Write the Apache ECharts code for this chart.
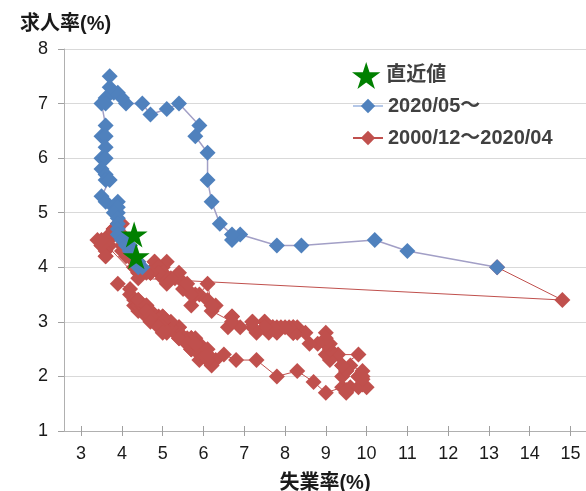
<!DOCTYPE html>
<html><head><meta charset="utf-8">
<script src="https://cdn.jsdelivr.net/npm/echarts@6/dist/echarts.min.js"></script>
<style>html,body{margin:0;padding:0;background:#fff}#c{width:586px;height:491px}</style>
</head><body><div id="c"></div>
<script>
// ---- data ----
const xTickValues = [3,4,5,6,7,8,9,10,11,12,13,14,15];
const yTickMin = 1, yTickMax = 8;

// 2000/12 ~ 2020/04 (last point connects to 2020/05)
const redX = [3.9,
 4.2,4.2,4.3,4.4,4.3,4.5,4.6,4.9,5.0,5.3,5.5,5.7,
 5.7,5.7,5.7,5.9,5.8,5.8,5.8,5.7,5.7,5.7,5.9,6.0,
 5.8,5.9,5.9,6.0,6.1,6.3,6.2,6.1,6.1,6.0,5.8,5.7,
 5.7,5.6,5.8,5.6,5.6,5.6,5.5,5.4,5.4,5.5,5.4,5.4,
 5.3,5.4,5.2,5.2,5.1,5.0,5.0,4.9,5.0,5.0,5.0,4.9,
 4.7,4.8,4.7,4.7,4.6,4.6,4.7,4.7,4.5,4.4,4.5,4.4,
 4.6,4.5,4.4,4.5,4.4,4.6,4.7,4.6,4.7,4.7,4.7,5.0,
 5.0,4.9,5.1,5.0,5.4,5.6,5.8,6.1,6.1,6.5,6.8,7.3,
 7.8,8.3,8.7,9.0,9.4,9.5,9.5,9.6,9.8,10.0,9.9,9.9,
 9.8,9.8,9.9,9.9,9.6,9.4,9.4,9.5,9.5,9.4,9.8,9.3,
 9.1,9.0,9.0,9.1,9.0,9.1,9.0,9.0,9.0,8.8,8.6,8.5,
 8.3,8.3,8.2,8.2,8.2,8.2,8.2,8.1,7.8,7.8,7.7,7.9,
 8.0,7.7,7.5,7.6,7.5,7.5,7.3,7.2,7.2,7.2,6.9,6.7,
 6.6,6.7,6.7,6.2,6.3,6.1,6.2,6.1,5.9,5.7,5.8,5.6,
 5.7,5.5,5.4,5.4,5.6,5.3,5.2,5.1,5.0,5.0,5.1,5.0,
 4.8,4.9,5.0,5.1,4.8,4.9,4.8,4.9,5.0,4.9,4.7,4.7,
 4.7,4.6,4.4,4.4,4.4,4.3,4.3,4.4,4.3,4.2,4.2,4.1,
 4.0,4.1,4.0,4.0,3.8,4.0,3.8,3.8,3.7,3.8,3.8,3.9,
 4.0,3.8,3.8,3.7,3.6,3.6,3.7,3.6,3.5,3.6,3.4,3.6,
 3.5,3.5,4.4,14.8,13.2];
const redY = [3.7,
 3.6,3.5,3.4,3.2,3.3,3.2,3.1,3.0,2.9,2.8,2.7,2.7,
 2.7,2.6,2.7,2.6,2.6,2.7,2.6,2.6,2.5,2.6,2.5,2.5,
 2.5,2.4,2.3,2.4,2.3,2.3,2.2,2.3,2.4,2.4,2.5,2.5,
 2.5,2.6,2.6,2.6,2.7,2.6,2.7,2.7,2.8,2.7,2.8,2.9,
 2.8,2.9,2.9,3.0,2.9,3.0,3.0,3.1,3.0,3.1,3.1,3.0,
 3.1,3.1,3.2,3.1,3.2,3.2,3.1,3.2,3.3,3.3,3.2,3.3,
 3.3,3.2,3.4,3.3,3.4,3.3,3.2,3.2,3.1,3.1,3.0,3.0,
 2.9,2.9,2.8,2.8,2.7,2.6,2.6,2.5,2.4,2.4,2.3,2.3,
 2.0,2.1,1.9,1.7,1.8,1.75,1.7,1.8,1.8,1.8,1.85,1.95,
 2.0,2.0,2.0,2.1,2.2,2.0,2.2,2.1,2.1,2.2,2.4,2.4,
 2.3,2.4,2.6,2.5,2.6,2.6,2.8,2.6,2.7,2.6,2.6,2.8,
 2.8,2.9,2.9,2.8,2.9,2.8,2.8,2.9,2.9,2.8,2.9,2.9,
 2.9,2.9,3.0,2.8,3.0,2.9,2.8,3.0,2.9,3.0,2.9,3.1,
 2.9,3.1,3.0,3.2,3.3,3.4,3.3,3.7,3.5,3.3,3.5,3.6,
 3.5,3.6,3.8,3.9,3.7,3.8,3.8,3.7,3.8,3.9,3.8,3.9,
 4.0,4.0,4.0,4.1,4.1,4.0,4.1,4.0,3.9,3.9,3.9,3.9,
 3.9,3.9,3.9,3.9,4.0,4.0,4.0,4.1,4.1,4.2,4.2,4.2,
 4.3,4.4,4.4,4.6,4.6,4.5,4.7,4.7,4.6,4.7,4.6,4.8,
 4.8,4.6,4.7,4.6,4.5,4.4,4.4,4.3,4.4,4.2,4.5,4.2,
 4.4,4.5,3.8,3.4,4.0];

// 2020/05 ~
const blueX = [13.2,11.0,10.2,8.4,7.8,6.9,6.7,6.7,
 6.4,6.2,6.1,6.1,5.8,5.9,5.4,5.1,4.7,4.5,4.1,3.9,
 4.0,3.8,3.7,3.7,3.6,3.6,3.5,3.6,3.5,3.6,3.6,3.5,
 3.6,3.5,3.6,3.6,3.7,3.5,3.6,3.9,3.8,3.9,3.9,3.8,
 3.9,3.9,3.9,3.9,4.0,4.1,4.2,4.2,4.1,4.2,4.4,4.4,4.5];
const blueY = [4.0,4.3,4.5,4.4,4.4,4.6,4.5,4.6,
 4.8,5.2,5.6,6.1,6.4,6.6,7.0,6.9,6.8,7.0,7.0,7.2,
 7.1,7.2,7.5,7.3,7.1,7.0,7.0,6.6,6.4,6.4,6.2,6.0,
 6.0,5.8,5.7,5.6,5.6,5.3,5.2,5.2,5.1,5.0,5.1,5.0,
 4.9,4.8,4.7,4.6,4.5,4.5,4.4,4.3,4.4,4.3,4.1,4.0,4.0];

// latest values
const starX = [4.3, 4.35];
const starY = [4.6, 4.2];

const zip = (a, b) => a.map((v, i) => [v, b[i]]);

const FONT = "'Liberation Sans', 'Noto Sans CJK JP', sans-serif";
const STAR = 'path://M50,0 L61.2,34.5 L97.6,34.5 L68.2,55.9 L79.4,90.5 L50,69.1 L20.6,90.5 L31.8,55.9 L2.4,34.5 L38.8,34.5 Z';

const chart = echarts.init(document.getElementById('c'), null, {renderer: 'canvas'});
chart.setOption({
  animation: false,
  backgroundColor: '#fff',
  textStyle: {fontFamily: FONT},
  title: {
    text: '求人率(%)', left: 15, top: 9,
    textStyle: {fontFamily: FONT, fontSize: 20, fontWeight: 'bold', color: '#1a1a1a'}
  },
  grid: {left: 64, right: 0, top: 49, bottom: 60, containLabel: false, outerBoundsMode: 'none'},
  legend: [
    {
      data: ['直近値'], left: 347, top: 57, orient: 'vertical',
      itemWidth: 30, itemHeight: 27,
      itemStyle: {opacity: 1},
      textStyle: {fontFamily: FONT, fontSize: 20, fontWeight: 'bold', color: '#404040'}
    },
    {
      data: [
        {name: '2020/05～', lineStyle: {color: '#b4c7e7', width: 2}},
        {name: '2000/12～2020/04'}
      ],
      left: 347, top: 91, orient: 'vertical',
      itemWidth: 30, itemHeight: 18, itemGap: 12,
      textStyle: {fontFamily: FONT, fontSize: 20, fontWeight: 'bold', color: '#404040', lineHeight: 20}
    }
  ],
  xAxis: [
    {
      type: 'value', min: 2.58, max: 15.38,
      name: '失業率(%)', nameLocation: 'middle', nameGap: 42,
      nameTextStyle: {fontFamily: FONT, fontSize: 20, fontWeight: 'bold', color: '#1a1a1a'},
      axisLine: {show: true, onZero: false, lineStyle: {color: '#b0b0b0', width: 1}},
      axisTick: {show: true, customValues: xTickValues, length: 5, lineStyle: {color: '#a0a0a0'}},
      axisLabel: {customValues: xTickValues, fontSize: 18, color: '#1a1a1a', margin: 14, fontFamily: FONT},
      splitLine: {show: false}
    },
    {
      type: 'value', min: 2.58, max: 15.38, position: 'bottom',
      axisLine: {show: false},
      axisTick: {show: true, inside: true, customValues: xTickValues, length: 5, lineStyle: {color: '#a0a0a0'}},
      axisLabel: {show: false, customValues: xTickValues},
      splitLine: {show: false}
    }
  ],
  yAxis: {
    type: 'value', min: yTickMin, max: yTickMax, interval: 1,
    axisLine: {show: true, onZero: false, lineStyle: {color: '#b0b0b0', width: 1}},
    axisTick: {show: true, length: 6, lineStyle: {color: '#a0a0a0'}},
    axisLabel: {fontSize: 18, color: '#1a1a1a', margin: 16, fontFamily: FONT},
    splitLine: {show: true, lineStyle: {color: '#d9d9d9', width: 1}}
  },
  series: [
    {
      name: '2000/12～2020/04', type: 'line', xAxisIndex: 0,
      data: zip(redX, redY),
      symbol: 'diamond', symbolSize: 16, showAllSymbol: true,
      itemStyle: {color: '#c0504d'},
      lineStyle: {color: '#c0504d', width: 1},
      z: 2
    },
    {
      name: '2020/05～', type: 'line', xAxisIndex: 0,
      data: zip(blueX, blueY),
      symbol: 'diamond', symbolSize: 16, showAllSymbol: true,
      itemStyle: {color: '#4f81bd'},
      lineStyle: {color: '#a29fc6', width: 1.5},
      z: 3
    },
    {
      name: '直近値', type: 'scatter', xAxisIndex: 0,
      data: zip(starX, starY),
      symbol: STAR, symbolSize: [27, 26],
      itemStyle: {color: '#008000', opacity: 1},
      z: 4
    }
  ]
});
</script>
</body></html>
